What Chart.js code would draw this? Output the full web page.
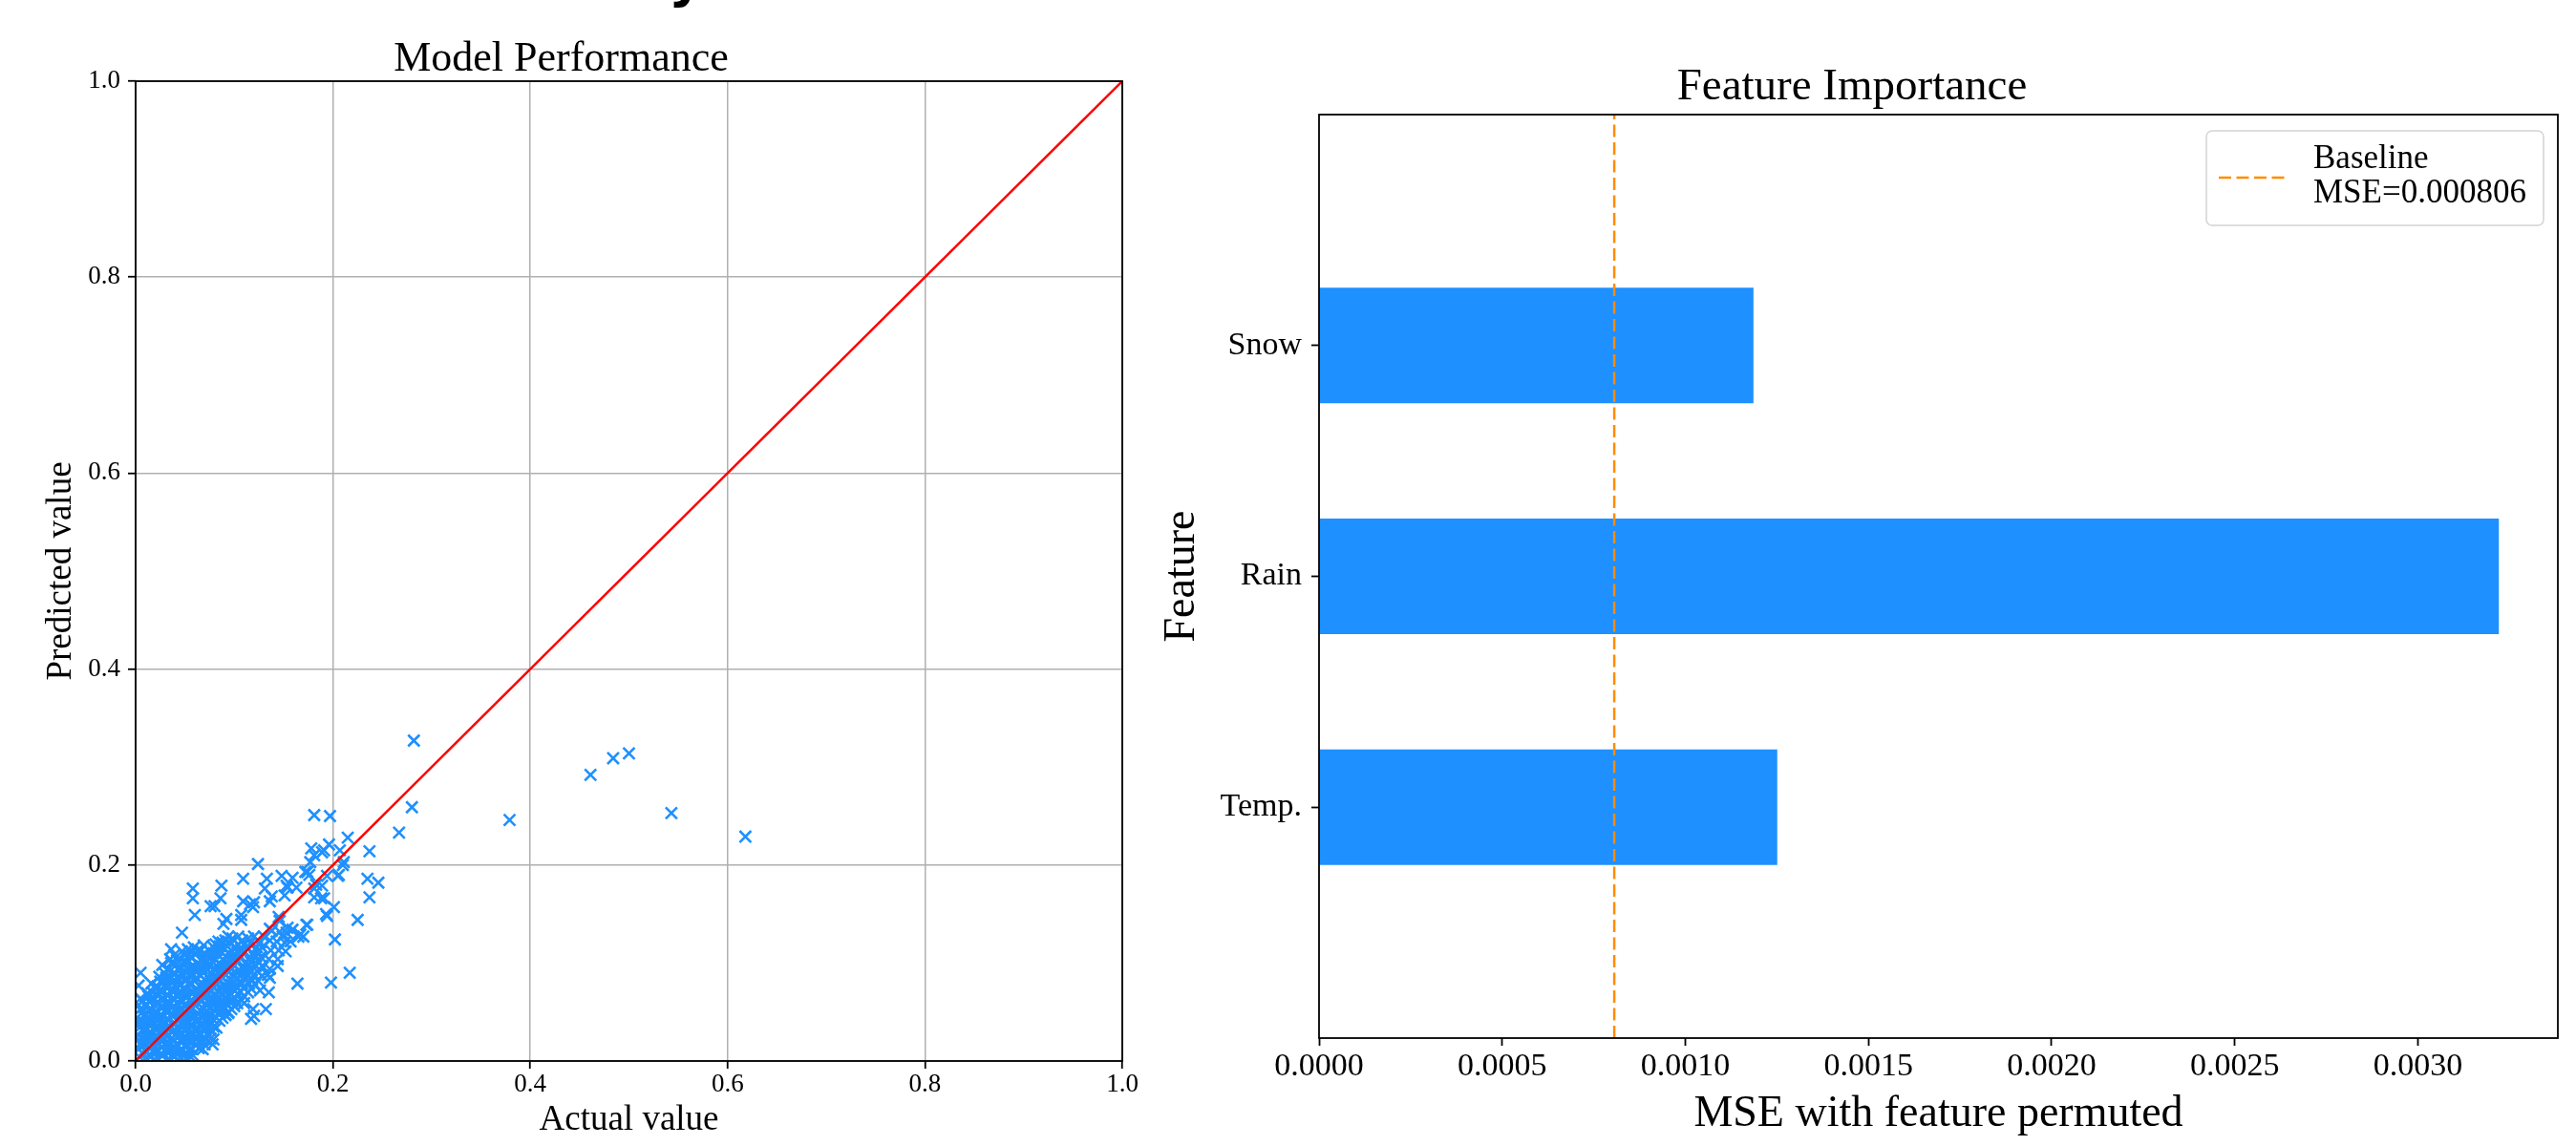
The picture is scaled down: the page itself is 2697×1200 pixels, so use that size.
<!DOCTYPE html>
<html>
<head>
<meta charset="utf-8">
<title>Model Performance / Feature Importance</title>
<script src="https://cdn.jsdelivr.net/npm/chart.js@4.4.0/dist/chart.umd.min.js"></script>
<style>
  html, body { margin: 0; padding: 0; background: #fff; }
  #wrap { position: relative; width: 2697px; height: 1200px; overflow: hidden; }
  canvas { position: absolute; top: 0; }
  #perf { left: 0; }
  #importance { left: 1200px; }
</style>
</head>
<body>
<div id="wrap">
  <canvas id="perf" width="1200" height="1200"></canvas>
  <canvas id="importance" width="1497" height="1200"></canvas>
</div>
<script>
// ---- data: left panel (actual vs predicted) ----
// outliers / sparse points first, then the dense cloud column by column
const actualValues = [
  0.282, 0.461, 0.484, 0.500, 0.379, 0.543, 0.618, 0.280, 0.267, 0.181,
  0.197, 0.215, 0.237, 0.235, 0.246, 0.237, 0.225, 0.202, 0.217, 0.198,
  0.164, 0.194, 0.201, 0.211, 0.206, 0.196, 0.178, 0.181, 0.189, 0.177,
  0.174, 0.183, 0.189, 0.181, 0.188, 0.176, 0.124, 0.109, 0.133, 0.148,
  0.159, 0.131, 0.138, 0.151, 0.154, 0.163, 0.058, 0.058, 0.060, 0.087,
  0.086, 0.080, 0.092, 0.109, 0.120, 0.119, 0.107, 0.047, 0.005, 0.003,
  0.174, 0.167, 0.157, 0.149, 0.154, 0.144, 0.134, 0.135, 0.132, 0.119,
  0.117, 0.091, 0.079, 0.068, 0.054, 0.076, 0.036, 0.116, 0.136, 0.145,
  0.159, 0.120, 0.094, 0.091, 0.078, 0.062, 0.046, 0.071, 0.110, 0.126,
  0.136, 0.165, 0.146, 0.136, 0.089, 0.107, 0.104, 0.126, 0.170, 0.173,
  0.191, 0.181, 0.194, 0.205, 0.210, 0.207, 0.191, 0.193, 0.172, 0.153,
  0.004, 0.003, 0.006, 0.002, 0.005, 0.004, 0.007, 0.003, 0.005,
  0.010, 0.011, 0.009, 0.012, 0.010, 0.008, 0.011, 0.010, 0.012,
  0.016, 0.015, 0.017, 0.016, 0.014, 0.018, 0.016, 0.015, 0.017, 0.016,
  0.022, 0.021, 0.023, 0.022, 0.020, 0.024, 0.022, 0.021, 0.023, 0.022, 0.024,
  0.028, 0.027, 0.029, 0.028, 0.030, 0.027, 0.028, 0.029, 0.026, 0.028, 0.030, 0.027,
  0.034, 0.035, 0.033, 0.034, 0.036, 0.033, 0.034, 0.035, 0.032, 0.034, 0.036, 0.033, 0.035,
  0.040, 0.041, 0.039, 0.042, 0.040, 0.038, 0.041, 0.040, 0.039, 0.042, 0.040, 0.041, 0.039,
  0.046, 0.045, 0.047, 0.046, 0.048, 0.045, 0.046, 0.047, 0.044, 0.046, 0.048, 0.045, 0.047,
  0.052, 0.051, 0.053, 0.051, 0.052, 0.054, 0.051, 0.052, 0.053, 0.050, 0.052, 0.054, 0.051, 0.053,
  0.058, 0.057, 0.058, 0.059, 0.058, 0.060, 0.057, 0.058, 0.059, 0.056, 0.058, 0.060, 0.057, 0.059,
  0.064, 0.064, 0.065, 0.063, 0.064, 0.066, 0.063, 0.064, 0.065, 0.062, 0.064, 0.066, 0.063,
  0.070, 0.070, 0.069, 0.071, 0.070, 0.072, 0.069, 0.070, 0.071, 0.068, 0.070, 0.072, 0.069,
  0.076, 0.076, 0.077, 0.075, 0.076, 0.078, 0.075, 0.076, 0.077, 0.074, 0.076, 0.078,
  0.082, 0.081, 0.083, 0.082, 0.084, 0.081, 0.082, 0.083, 0.080, 0.082, 0.084,
  0.088, 0.089, 0.087, 0.088, 0.090, 0.087, 0.088, 0.089, 0.086, 0.088,
  0.094, 0.093, 0.095, 0.094, 0.096, 0.093, 0.094, 0.095, 0.092, 0.094,
  0.100, 0.101, 0.099, 0.100, 0.102, 0.099, 0.100, 0.101, 0.098,
  0.107, 0.106, 0.108, 0.107, 0.109, 0.106, 0.107, 0.108,
  0.114, 0.115, 0.113, 0.114, 0.116, 0.113, 0.114,
  0.121, 0.120, 0.122, 0.121, 0.123, 0.120,
  0.128, 0.129, 0.127, 0.128, 0.130,
  0.136, 0.135, 0.137, 0.136, 0.138,
  0.144, 0.145, 0.143, 0.146,
  0.152, 0.151, 0.153,
  0.007, 0.006, 0.008, 0.007, 0.005, 0.008, 0.006, 0.007,
  0.013, 0.014, 0.012, 0.013, 0.015, 0.012, 0.013, 0.014, 0.013,
  0.019, 0.018, 0.020, 0.019, 0.017, 0.020, 0.019, 0.018, 0.020,
  0.025, 0.026, 0.024, 0.025, 0.027, 0.024, 0.025, 0.026, 0.024, 0.025,
  0.031, 0.030, 0.032, 0.031, 0.033, 0.030, 0.031, 0.032, 0.030, 0.031, 0.032,
  0.037, 0.038, 0.036, 0.037, 0.039, 0.036, 0.037, 0.038, 0.036, 0.037, 0.039, 0.036,
  0.043, 0.042, 0.044, 0.043, 0.045, 0.042, 0.043, 0.044, 0.042, 0.043, 0.045, 0.042,
  0.049, 0.050, 0.048, 0.049, 0.051, 0.048, 0.049, 0.050, 0.048, 0.049, 0.051, 0.048, 0.050,
  0.055, 0.054, 0.056, 0.055, 0.057, 0.054, 0.055, 0.056, 0.054, 0.055, 0.057, 0.054,
  0.061, 0.062, 0.060, 0.061, 0.063, 0.060, 0.061, 0.062, 0.060, 0.061, 0.063, 0.060,
  0.067, 0.066, 0.068, 0.067, 0.069, 0.066, 0.067, 0.068, 0.066, 0.067, 0.069, 0.066,
  0.073, 0.074, 0.072, 0.073, 0.075, 0.072, 0.073, 0.074, 0.072, 0.073, 0.075,
  0.079, 0.078, 0.080, 0.079, 0.081, 0.078, 0.079, 0.080, 0.078, 0.079, 0.081,
  0.085, 0.086, 0.084, 0.085, 0.087, 0.084, 0.085, 0.086, 0.084, 0.085,
  0.091, 0.090, 0.092, 0.091, 0.093, 0.090, 0.091, 0.092, 0.090, 0.091,
  0.097, 0.098, 0.096, 0.097, 0.099, 0.096, 0.097, 0.098, 0.096,
  0.103, 0.104, 0.102, 0.103, 0.105, 0.102, 0.103, 0.104,
  0.110, 0.109, 0.111, 0.110, 0.112, 0.109, 0.110,
  0.117, 0.118, 0.116, 0.117, 0.119, 0.116,
  0.124, 0.123, 0.125, 0.124, 0.126
];
const predictedValues = [
  0.327, 0.292, 0.309, 0.314, 0.246, 0.253, 0.229, 0.259, 0.233, 0.251,
  0.250, 0.228, 0.214, 0.186, 0.182, 0.167, 0.144, 0.124, 0.090, 0.080,
  0.079, 0.148, 0.157, 0.203, 0.190, 0.221, 0.217, 0.210, 0.213, 0.203,
  0.193, 0.180, 0.179, 0.167, 0.166, 0.190, 0.201, 0.186, 0.186, 0.189,
  0.187, 0.176, 0.168, 0.169, 0.177, 0.177, 0.176, 0.166, 0.149, 0.179,
  0.166, 0.158, 0.145, 0.163, 0.162, 0.157, 0.149, 0.131, 0.090, 0.077,
  0.139, 0.129, 0.122, 0.127, 0.136, 0.097, 0.088, 0.070, 0.053, 0.053,
  0.043, 0.047, 0.022, 0.012, 0.006, 0.158, 0.114, 0.160, 0.163, 0.147,
  0.134, 0.046, 0.049, 0.059, 0.017, 0.017, 0.003, 0.022, 0.059, 0.072,
  0.085, 0.127, 0.143, 0.135, 0.140, 0.144, 0.127, 0.121, 0.127, 0.139,
  0.166, 0.176, 0.189, 0.189, 0.200, 0.215, 0.215, 0.150, 0.193, 0.179,
  0.004, 0.012, 0.019, 0.027, 0.035, 0.042, 0.050, 0.057, 0.064,
  0.002, 0.009, 0.017, 0.024, 0.032, 0.040, 0.047, 0.056, 0.069,
  0.005, 0.013, 0.021, 0.029, 0.036, 0.045, 0.053, 0.061, 0.070, 0.079,
  0.003, 0.010, 0.018, 0.026, 0.034, 0.042, 0.050, 0.059, 0.067, 0.076, 0.086,
  0.006, 0.014, 0.022, 0.030, 0.038, 0.046, 0.055, 0.063, 0.071, 0.080, 0.089, 0.098,
  0.002, 0.010, 0.018, 0.026, 0.034, 0.043, 0.051, 0.059, 0.068, 0.076, 0.085, 0.094, 0.104,
  0.005, 0.013, 0.021, 0.029, 0.038, 0.046, 0.054, 0.063, 0.071, 0.080, 0.089, 0.098, 0.108,
  0.003, 0.011, 0.019, 0.028, 0.036, 0.044, 0.053, 0.061, 0.070, 0.078, 0.087, 0.096, 0.112,
  0.002, 0.008, 0.016, 0.024, 0.032, 0.040, 0.049, 0.057, 0.066, 0.074, 0.083, 0.092, 0.101, 0.114,
  0.006, 0.012, 0.020, 0.028, 0.036, 0.045, 0.053, 0.061, 0.070, 0.078, 0.087, 0.096, 0.105, 0.116,
  0.013, 0.019, 0.026, 0.034, 0.043, 0.051, 0.059, 0.068, 0.076, 0.085, 0.094, 0.103, 0.113,
  0.017, 0.024, 0.032, 0.040, 0.048, 0.057, 0.065, 0.074, 0.082, 0.091, 0.099, 0.108, 0.118,
  0.023, 0.031, 0.039, 0.047, 0.055, 0.064, 0.072, 0.081, 0.089, 0.098, 0.107, 0.117,
  0.034, 0.045, 0.053, 0.062, 0.070, 0.079, 0.087, 0.096, 0.104, 0.113, 0.122,
  0.044, 0.052, 0.060, 0.069, 0.077, 0.086, 0.094, 0.103, 0.112, 0.121,
  0.050, 0.058, 0.066, 0.075, 0.083, 0.092, 0.100, 0.109, 0.118, 0.127,
  0.056, 0.064, 0.073, 0.081, 0.090, 0.098, 0.107, 0.116, 0.125,
  0.062, 0.071, 0.079, 0.088, 0.097, 0.105, 0.114, 0.123,
  0.070, 0.079, 0.088, 0.097, 0.106, 0.115, 0.125,
  0.078, 0.088, 0.097, 0.106, 0.116, 0.127,
  0.087, 0.096, 0.106, 0.116, 0.127,
  0.094, 0.104, 0.113, 0.123, 0.133,
  0.104, 0.113, 0.122, 0.132,
  0.112, 0.121, 0.131,
  0.008, 0.016, 0.023, 0.031, 0.039, 0.046, 0.054, 0.061,
  0.006, 0.013, 0.021, 0.028, 0.036, 0.044, 0.052, 0.060, 0.066,
  0.009, 0.017, 0.025, 0.033, 0.041, 0.049, 0.057, 0.065, 0.074,
  0.007, 0.014, 0.022, 0.030, 0.038, 0.046, 0.055, 0.063, 0.072, 0.081,
  0.010, 0.018, 0.026, 0.034, 0.042, 0.051, 0.059, 0.067, 0.076, 0.085, 0.093,
  0.006, 0.014, 0.022, 0.030, 0.039, 0.047, 0.055, 0.064, 0.072, 0.081, 0.090, 0.100,
  0.009, 0.017, 0.025, 0.033, 0.042, 0.050, 0.058, 0.067, 0.075, 0.084, 0.093, 0.103,
  0.007, 0.015, 0.024, 0.032, 0.040, 0.049, 0.057, 0.066, 0.074, 0.083, 0.091, 0.101, 0.108,
  0.012, 0.020, 0.028, 0.036, 0.045, 0.053, 0.061, 0.070, 0.079, 0.088, 0.097, 0.108,
  0.016, 0.024, 0.032, 0.040, 0.049, 0.057, 0.065, 0.074, 0.082, 0.091, 0.100, 0.110,
  0.021, 0.028, 0.036, 0.044, 0.053, 0.061, 0.070, 0.078, 0.087, 0.095, 0.104, 0.113,
  0.027, 0.035, 0.043, 0.051, 0.060, 0.068, 0.077, 0.085, 0.094, 0.102, 0.112,
  0.035, 0.043, 0.051, 0.059, 0.067, 0.076, 0.084, 0.093, 0.101, 0.110, 0.119,
  0.041, 0.049, 0.057, 0.065, 0.074, 0.082, 0.091, 0.099, 0.108, 0.117,
  0.047, 0.055, 0.063, 0.072, 0.080, 0.089, 0.097, 0.106, 0.115, 0.123,
  0.053, 0.061, 0.069, 0.078, 0.086, 0.095, 0.104, 0.112, 0.121,
  0.059, 0.068, 0.076, 0.085, 0.093, 0.102, 0.111, 0.119,
  0.066, 0.075, 0.084, 0.093, 0.101, 0.110, 0.119,
  0.074, 0.083, 0.092, 0.101, 0.110, 0.120,
  0.082, 0.092, 0.101, 0.111, 0.121
];
const idealLine = [0, 1];
const perfTicks = [0, 0.2, 0.4, 0.6, 0.8, 1.0];

// ---- data: right panel (permutation importance) ----
const featureNames = ['Temp.', 'Rain', 'Snow'];
const permutedMse = [0.001251, 0.003221, 0.001186];
const baselineMse = 0.000806;

const serif = "'Liberation Serif', 'Times New Roman', serif";
const blue = '#1e90ff';
const orange = '#ff8c00';

Chart.defaults.font.family = serif;
Chart.defaults.color = '#000';

if (actualValues.length !== predictedValues.length) {
  console.error('length mismatch', actualValues.length, predictedValues.length);
}

const framePlugin = {
  id: 'frame',
  afterDraw(chart) {
    const { ctx, chartArea: a } = chart;
    ctx.save();
    ctx.strokeStyle = '#000';
    ctx.lineWidth = 1.8;
    ctx.strokeRect(a.left, a.top, a.right - a.left, a.bottom - a.top);
    ctx.restore();
  }
};

// bottom of a figure title that sits above the page edge
const cutTitle = {
  id: 'cutTitle',
  afterDraw(chart) {
    const ctx = chart.ctx;
    ctx.save();
    ctx.fillStyle = '#000';
    ctx.font = "bold 56px 'DejaVu Sans'";
    ctx.textBaseline = 'alphabetic';
    ctx.fillText('y', 700, -4);
    ctx.restore();
  }
};

const baselineLegend = {
  id: 'baselineLegend',
  afterDraw(chart) {
    const { ctx, chartArea: a } = chart;
    const w = 353, h = 99;
    const x = a.right - 15 - w, y = a.top + 17;
    ctx.save();
    ctx.beginPath();
    ctx.roundRect(x, y, w, h, 6);
    ctx.fillStyle = 'rgba(255,255,255,0.8)';
    ctx.fill();
    ctx.strokeStyle = '#d4d4d4';
    ctx.lineWidth = 1.5;
    ctx.stroke();
    ctx.setLineDash([13, 5.5]);
    ctx.strokeStyle = orange;
    ctx.lineWidth = 2.5;
    ctx.beginPath();
    ctx.moveTo(x + 13, y + 49);
    ctx.lineTo(x + 82, y + 49);
    ctx.stroke();
    ctx.setLineDash([]);
    ctx.fillStyle = '#000';
    ctx.font = '35px ' + serif;
    ctx.textBaseline = 'middle';
    ctx.fillText('Baseline', x + 112, y + 30);
    ctx.fillText('MSE=' + baselineMse, x + 112, y + 66);
    ctx.restore();
  }
};

// Left: Model Performance
new Chart(document.getElementById('perf'), {
  type: 'scatter',
  data: {
    datasets: [
      {
        label: 'y = x',
        data: idealLine.map(v => ({ x: v, y: v })),
        showLine: true,
        borderColor: '#ff0000',
        borderWidth: 2.5,
        pointRadius: 0,
        order: 0,
        clip: 0
      },
      {
        label: 'samples',
        data: actualValues.map((a, i) => ({ x: a, y: predictedValues[i] })),
        pointStyle: 'crossRot',
        pointRadius: 8.5,
        pointBorderWidth: 2.6,
        borderColor: blue,
        backgroundColor: blue,
        order: 1,
        clip: 0
      }
    ]
  },
  options: {
    responsive: false,
    animation: false,
    layout: { padding: { right: 25 } },
    plugins: {
      legend: { display: false },
      tooltip: { enabled: false },
      title: {
        display: true,
        text: 'Model Performance',
        font: { size: 44, weight: 'normal', lineHeight: 1 },
        padding: { top: 40, bottom: 1 },
        color: '#000'
      }
    },
    scales: {
      x: {
        type: 'linear', min: 0, max: 1,
        afterBuildTicks: s => { s.ticks = perfTicks.map(v => ({ value: v })); },
        ticks: { callback: v => v.toFixed(1), font: { size: 27, lineHeight: 1 }, padding: 3.5, maxRotation: 0, color: '#000' },
        grid: { color: '#b0b0b0', lineWidth: 1.5, tickColor: '#000', tickLength: 8, tickWidth: 1.8 },
        border: { display: false },
        title: { display: true, text: 'Actual value', font: { size: 37, lineHeight: 1 }, padding: { top: 0, bottom: 8.5 }, color: '#000' },
        afterFit: s => { s.height = 89; }
      },
      y: {
        type: 'linear', min: 0, max: 1,
        afterBuildTicks: s => { s.ticks = perfTicks.map(v => ({ value: v })); },
        ticks: { callback: v => v.toFixed(1), font: { size: 27, lineHeight: 1 }, padding: 8, color: '#000' },
        grid: { color: '#b0b0b0', lineWidth: 1.5, tickColor: '#000', tickLength: 8, tickWidth: 1.8 },
        border: { display: false },
        title: { display: true, text: 'Predicted value', font: { size: 37, lineHeight: 1 }, padding: { top: 46, bottom: 0 }, color: '#000' },
        afterFit: s => { s.width = 142; }
      }
    }
  },
  plugins: [framePlugin, cutTitle]
});

// Right: Feature Importance
const xMax = Math.max(...permutedMse) * 1.05;

new Chart(document.getElementById('importance'), {
  type: 'bar',
  data: {
    datasets: [
      {
        type: 'line',
        label: 'Baseline',
        data: [{ x: baselineMse, y: -1 }, { x: baselineMse, y: 3 }],
        borderColor: orange,
        borderWidth: 2.5,
        borderDash: [13, 5.5],
        pointRadius: 0,
        order: 0,
        clip: 0
      },
      {
        label: 'MSE with feature permuted',
        data: featureNames.map((n, i) => ({ x: permutedMse[i], y: i })),
        backgroundColor: blue,
        borderWidth: 0,
        categoryPercentage: 0.5,
        barPercentage: 1.0,
        order: 1
      }
    ]
  },
  options: {
    indexAxis: 'y',
    responsive: false,
    animation: false,
    layout: { padding: { right: 19 } },
    plugins: {
      legend: { display: false },
      tooltip: { enabled: false },
      title: {
        display: true,
        text: 'Feature Importance',
        font: { size: 47, weight: 'normal', lineHeight: 1 },
        padding: { top: 68.5, bottom: 4.5 },
        color: '#000'
      }
    },
    scales: {
      x: {
        type: 'linear', min: 0, max: xMax,
        ticks: { stepSize: 0.0005, includeBounds: false, callback: v => v.toFixed(4), font: { size: 34, lineHeight: 1 }, padding: 5, maxRotation: 0, color: '#000' },
        grid: { drawOnChartArea: false, tickColor: '#000', tickLength: 8, tickWidth: 1.8 },
        border: { display: false },
        title: { display: true, text: 'MSE with feature permuted', font: { size: 46, lineHeight: 1 }, padding: { top: 0, bottom: 10 }, color: '#000' },
        afterFit: s => { s.height = 113; }
      },
      y: {
        type: 'linear', min: -1, max: 3,
        offset: false,
        afterBuildTicks: s => { s.ticks = featureNames.map((n, i) => ({ value: i })); },
        ticks: { callback: v => featureNames[v], font: { size: 34, lineHeight: 1 }, padding: 10, color: '#000' },
        grid: { offset: false, drawOnChartArea: false, tickColor: '#000', tickLength: 8, tickWidth: 1.8 },
        border: { display: false },
        title: { display: true, text: 'Feature', font: { size: 46, lineHeight: 1 }, padding: { top: 15, bottom: 0 }, color: '#000' },
        afterFit: s => { s.width = 181; }
      }
    }
  },
  plugins: [framePlugin, baselineLegend]
});
</script>
</body>
</html>
